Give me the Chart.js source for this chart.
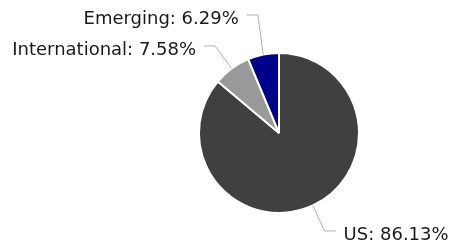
<!DOCTYPE html>
<html>
<head>
<meta charset="utf-8">
<script src="https://cdn.jsdelivr.net/npm/chart.js@4.4.1/dist/chart.umd.min.js"></script>
<style>
  html, body { margin: 0; padding: 0; background: #fff; }
  #wrap { width: 450px; height: 243px; }
</style>
</head>
<body>
<div id="wrap"><canvas id="pie" width="450" height="243"></canvas></div>
<script>
// --- data ---
const categories = ['US', 'International', 'Emerging'];
const shares = [86.13, 7.58, 6.29];
const sliceColors = ['#404040', '#999999', '#00008b'];

// draws the "Name: xx.xx%" callouts with elbow leader lines
const calloutPlugin = {
    id: 'callouts',
    afterDraw(chart) {
        const ctx = chart.ctx;
        const arcs = chart.getDatasetMeta(0).data;
        ctx.save();
        ctx.font = '18px "DejaVu Sans", Verdana, sans-serif';

        // anchor on the rim + elbow, both on the slice's mid angle
        const items = arcs.map((arc, i) => {
            const mid = (arc.startAngle + arc.endAngle) / 2;
            const r = arc.outerRadius;
            const cos = Math.cos(mid), sin = Math.sin(mid);
            return {
                text: categories[i] + ': ' + shares[i].toFixed(2) + '%',
                ax: arc.x + cos * r,
                ay: arc.y + sin * r,
                ex: arc.x + cos * (r + 28),
                ey: arc.y + sin * (r + 28),
                left: cos < 0
            };
        });

        // keep labels on the same side from overlapping
        const minGap = 31;
        const leftSide = items.filter(d => d.left).sort((a, b) => b.ey - a.ey);
        for (let i = 1; i < leftSide.length; i++) {
            if (leftSide[i - 1].ey - leftSide[i].ey < minGap) {
                leftSide[i].ey = leftSide[i - 1].ey - minGap;
            }
        }
        const rightSide = items.filter(d => !d.left).sort((a, b) => a.ey - b.ey);
        for (let i = 1; i < rightSide.length; i++) {
            if (rightSide[i].ey - rightSide[i - 1].ey < minGap) {
                rightSide[i].ey = rightSide[i - 1].ey + minGap;
            }
        }

        items.forEach(d => {
            const dir = d.left ? -1 : 1;
            const endX = d.ex + dir * 11;
            ctx.strokeStyle = '#b0b0b0';
            ctx.lineWidth = 1;
            ctx.beginPath();
            ctx.moveTo(d.ax, d.ay);
            ctx.lineTo(d.ex, d.ey);
            ctx.lineTo(endX, d.ey);
            ctx.stroke();

            ctx.fillStyle = '#1a1a1a';
            ctx.textBaseline = 'alphabetic';
            ctx.textAlign = d.left ? 'right' : 'left';
            ctx.fillText(d.text, endX + dir * 8, d.ey + 9);
        });
        ctx.restore();
    }
};

const pieChart = new Chart(document.getElementById('pie'), {
    type: 'pie',
    data: {
        labels: categories,
        datasets: [{
            data: shares,
            backgroundColor: sliceColors,
            borderColor: '#ffffff',
            borderWidth: 2,
            hoverOffset: 0
        }]
    },
    options: {
        responsive: false,
        animation: false,
        layout: { padding: { left: 198, right: 90, top: 52, bottom: 29 } },
        plugins: {
            legend: { display: false },
            tooltip: { enabled: false }
        }
    },
    plugins: [calloutPlugin]
});
</script>
</body>
</html>
